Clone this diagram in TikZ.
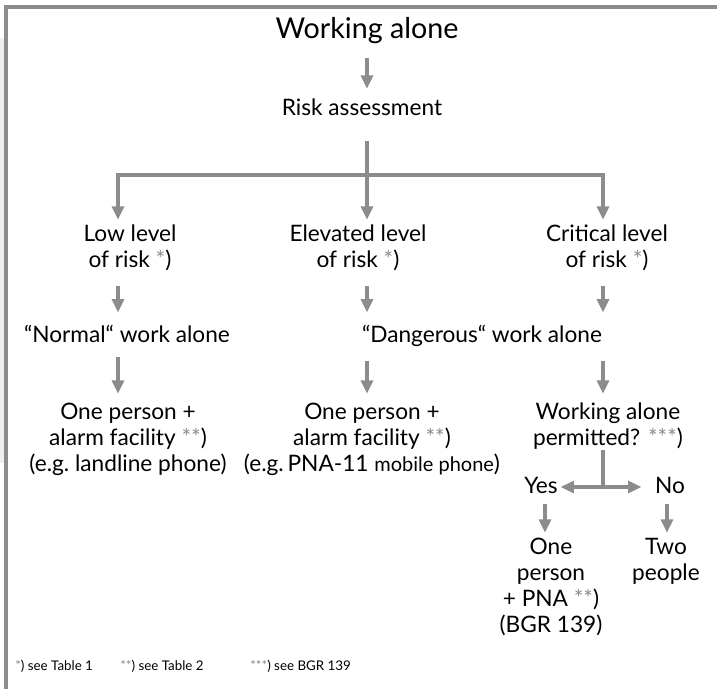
\documentclass[tikz,border=0pt]{standalone}
\usepackage{fontspec}
\setmainfont{Lato}
\usetikzlibrary{arrows.meta}

\definecolor{linegray}{HTML}{8C8C8C}
\definecolor{stargray}{HTML}{8A8A8A}
\definecolor{bandgray}{HTML}{EEF0EE}
\newcommand{\fnmark}[1]{{\color{stargray}#1})}

\begin{document}
\begin{tikzpicture}[x=0.75pt,y=-0.75pt,
	every node/.style={inner sep=0pt,font=\fontsize{17}{19.5}\selectfont},
	blk/.style={anchor=north,align=center},
	arr/.style={draw=linegray,line width=2.3pt,-{Triangle[width=9pt,length=10pt]},shorten <=11pt,shorten >=7pt},
	ln/.style={draw=linegray,line width=2.3pt},
	foot/.style={anchor=base west,font=\fontsize{10}{12}\selectfont}]

	\useasboundingbox (0,0) rectangle (717,689);
	\fill[bandgray] (0,38) rectangle (4,463);
	\draw[linegray,line width=3.4pt] (6,689) -- (6,7) -- (717,7);

	% arrow columns
	\coordinate (colL) at (118,0);
	\coordinate (colM) at (367,0);
	\coordinate (colR) at (603,0);
	\coordinate (colYes) at (545,0);
	\coordinate (colNo) at (667,0);
	\coordinate (split) at (367,175);
	\coordinate (fork) at (603,487);

	\node[anchor=base,font=\fontsize{21.5}{26}\selectfont] (title) at (367,38) {Working alone};
	\node[anchor=base] (risk) at (362,115) {Risk assessment};

	\node[blk] (low) at (130,225) {Low level\\of risk \fnmark{*}};
	\node[blk] (elevated) at (358,225) {Elevated level\\of risk \fnmark{*}};
	\node[blk] (critical) at (607,225) {Critical level\\of risk \fnmark{*}};

	\node[anchor=base] (normal) at (127,342) {“Normal“ work alone};
	\node[anchor=base] (dangerous) at (482,342) {“Dangerous“ work alone};

	\node[blk] (alarmL) at (128,403) {One person +\\alarm facility \fnmark{**}\\(e.g.\ landline phone)};
	\node[blk] (alarmM) at (372,403) {One person +\\alarm facility \fnmark{**}\\(e.g.\,PNA-11 {\fontsize{15}{19.5}\selectfont mobile phone})};
	\node[blk] (permit) at (608,403) {Working alone\\permitted? \fnmark{***}};

	\node[anchor=base] (yes) at (541,493) {Yes};
	\node[anchor=base] (no) at (670,493) {No};

	\node[blk] (onepna) at (551,538) {One\\person\\+ PNA \fnmark{**}\\(BGR 139)};
	\node[blk] (two) at (666,538) {Two\\people};

	\node[foot] (fnA) at (15,670) {\fnmark{*} see Table 1};
	\node[foot] (fnB) at (120,670) {\fnmark{**} see Table 2};
	\node[foot] (fnC) at (250,670) {\fnmark{***} see BGR 139};

	\draw[arr] (title.south -| colM) -- (risk.north -| colM);
	\draw[ln,shorten <=19pt] (risk.south -| split) -- (split);
	\draw[arr,shorten <=0pt,shorten >=4pt] (split) -| (low.north -| colL);
	\draw[arr,shorten <=0pt,shorten >=4pt] (split) -- (elevated.north -| colM);
	\draw[arr,shorten <=0pt,shorten >=4pt] (split) -| (critical.north -| colR);

	\draw[arr,shorten >=9pt] (low.south -| colL) -- (normal.north -| colL);
	\draw[arr,shorten >=9pt] (elevated.south -| colM) -- (dangerous.north -| colM);
	\draw[arr,shorten >=9pt] (critical.south -| colR) -- (dangerous.north -| colR);

	\draw[arr] (normal.south -| colL) -- (alarmL.north -| colL);
	\draw[arr] (dangerous.south -| colM) -- (alarmM.north -| colM);
	\draw[arr] (dangerous.south -| colR) -- (permit.north -| colR);

	\draw[ln] (permit.south -| fork) -- (fork);
	\draw[draw=linegray,line width=2.3pt,{Triangle[width=9pt,length=10pt]}-{Triangle[width=9pt,length=10pt]},shorten <=2pt,shorten >=10pt] (yes.east |- fork) -- (no.west |- fork);

	\draw[arr,shorten <=8pt,shorten >=4pt] (yes.south -| colYes) -- (onepna.north -| colYes);
	\draw[arr,shorten <=8pt,shorten >=4pt] (no.south -| colNo) -- (two.north -| colNo);
\end{tikzpicture}
\end{document}
